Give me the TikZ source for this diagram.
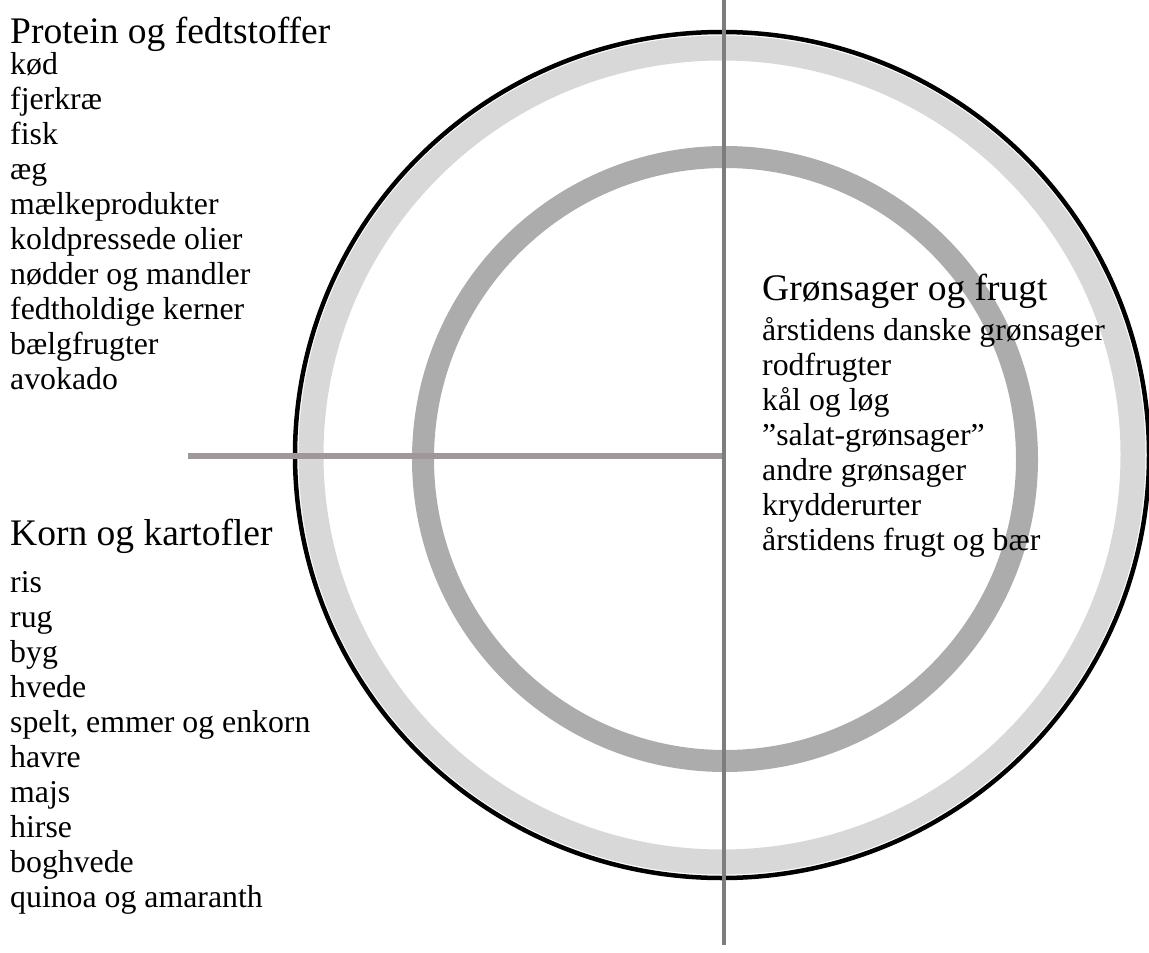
\documentclass[tikz,border=0pt]{standalone}
\usepackage{fontspec}
\setmainfont{Liberation Serif}
\definecolor{bandlight}{RGB}{216,216,216}
\definecolor{banddark}{RGB}{172,172,172}
\definecolor{vline}{RGB}{125,125,125}
\definecolor{hline}{RGB}{160,152,152}
\tikzset{
  head/.style={anchor=base west,inner sep=0pt,font=\fontsize{37.5}{40}\selectfont},
  item/.style={anchor=base west,inner sep=0pt,font=\fontsize{31.8}{35}\selectfont},
}
\begin{document}
\begin{tikzpicture}[x=1pt,y=1pt]
\useasboundingbox (0,0) rectangle (1149,-953);
% rings
\draw[bandlight,line width=25pt] (722,-455) ellipse [x radius=411, y radius=407];
\draw[black,line width=4.5pt] (722,-455) ellipse [x radius=427, y radius=423];
\draw[banddark,line width=22pt] (725,-459) circle [radius=302];
% lines
\coordinate (htl) at (188,-456);
\coordinate (htr) at (724,-456);
\coordinate (vtop) at (724,0);
\coordinate (vbot) at (724,-945);
\draw[hline,line width=6pt] (htl) -- (htr);
\draw[vline,line width=4pt] (vtop) -- (vbot);
% left top
\node[head] (pt) at (10,-43) {Protein og fedtstoffer};
\foreach \t [count=\i from 0] in {kød,fjerkræ,fisk,æg,mælkeprodukter,koldpressede olier,nødder og mandler,fedtholdige kerner,bælgfrugter,avokado}
  \node[item] (p\i) at (10,-74-35*\i) {\t};
% left bottom
\node[head] (kt) at (10,-545) {Korn og kartofler};
\foreach \t [count=\i from 0] in {ris,rug,byg,hvede,{spelt, emmer og enkorn},havre,majs,hirse,boghvede,quinoa og amaranth}
  \node[item] (k\i) at (10,-592-35*\i) {\t};
% right
\node[head] (gt) at (762,-300) {Grønsager og frugt};
\foreach \t [count=\i from 0] in {årstidens danske grønsager,rodfrugter,kål og løg,”salat-grønsager”,andre grønsager,krydderurter,årstidens frugt og bær}
  \node[item] (g\i) at (762,-340-35*\i) {\t};
\end{tikzpicture}
\end{document}
